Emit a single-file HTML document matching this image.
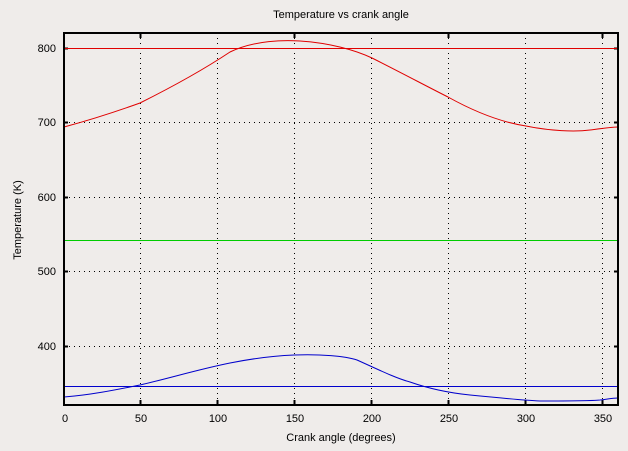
<!DOCTYPE html><html><head><style>body{margin:0;background:#efecea}</style></head><body>
<svg width="628" height="446" xmlns="http://www.w3.org/2000/svg" font-family="Liberation Sans, sans-serif" font-size="11">
<rect width="628" height="446" fill="#efecea"/>
<text x="341" y="18" text-anchor="middle">Temperature vs crank angle</text>
<text x="341" y="441" text-anchor="middle">Crank angle (degrees)</text>
<text transform="translate(21,220) rotate(-90)" text-anchor="middle">Temperature (K)</text>
<g stroke="#000" stroke-dasharray="1,4" stroke-width="1">
<line x1="140.5" y1="33" x2="140.5" y2="405"/><line x1="217.5" y1="33" x2="217.5" y2="405"/><line x1="294.5" y1="33" x2="294.5" y2="405"/><line x1="371.5" y1="33" x2="371.5" y2="405"/><line x1="448.5" y1="33" x2="448.5" y2="405"/><line x1="525.5" y1="33" x2="525.5" y2="405"/><line x1="602.5" y1="33" x2="602.5" y2="405"/>
<line x1="64" y1="346.5" x2="618" y2="346.5"/><line x1="64" y1="271.5" x2="618" y2="271.5"/><line x1="64" y1="197.5" x2="618" y2="197.5"/><line x1="64" y1="122.5" x2="618" y2="122.5"/><line x1="64" y1="48.5" x2="618" y2="48.5"/>
</g>
<g stroke="#000" stroke-width="2">
<line x1="140.5" y1="405" x2="140.5" y2="400"/><line x1="217.5" y1="405" x2="217.5" y2="400"/><line x1="294.5" y1="405" x2="294.5" y2="400"/><line x1="371.5" y1="405" x2="371.5" y2="400"/><line x1="448.5" y1="405" x2="448.5" y2="400"/><line x1="525.5" y1="405" x2="525.5" y2="400"/><line x1="602.5" y1="405" x2="602.5" y2="400"/>
<line x1="140.5" y1="33" x2="140.5" y2="38"/><line x1="294.5" y1="33" x2="294.5" y2="38"/><line x1="448.5" y1="33" x2="448.5" y2="38"/><line x1="602.5" y1="33" x2="602.5" y2="38"/>
<line x1="64" y1="346.5" x2="68" y2="346.5"/><line x1="64" y1="271.5" x2="68" y2="271.5"/><line x1="64" y1="197.5" x2="68" y2="197.5"/><line x1="64" y1="122.5" x2="68" y2="122.5"/><line x1="64" y1="48.5" x2="68" y2="48.5"/>
<line x1="618" y1="346.5" x2="614" y2="346.5"/><line x1="618" y1="271.5" x2="614" y2="271.5"/><line x1="618" y1="197.5" x2="614" y2="197.5"/><line x1="618" y1="122.5" x2="614" y2="122.5"/><line x1="618" y1="48.5" x2="614" y2="48.5"/>
</g>
<g text-anchor="middle"><text x="65" y="422">0</text><text x="141" y="422">50</text><text x="218" y="422">100</text><text x="295" y="422">150</text><text x="372" y="422">200</text><text x="449" y="422">250</text><text x="526" y="422">300</text><text x="603" y="422">350</text></g>
<g text-anchor="end"><text x="56" y="350">400</text><text x="56" y="275">500</text><text x="56" y="201">600</text><text x="56" y="126">700</text><text x="56" y="52">800</text></g>
<line x1="64" y1="48.5" x2="618" y2="48.5" stroke="#e00000"/>
<line x1="64" y1="240.5" x2="618" y2="240.5" stroke="#00cc00"/>
<line x1="64" y1="386.5" x2="618" y2="386.5" stroke="#0000cc"/>
<path d="M64,127 C90,120 115,112 140,103 C170,88 200,72 230,52 C255,40 285,40 300,41 C330,43 355,50 372,58 C400,72 430,88 448,97 C475,112 500,122 526,126 C550,131 575,132 590,130 C605,128 612,127 618,127" fill="none" stroke="#e00000"/>
<path d="M64,397 C90,395 115,390 140,385 C170,378 200,369 230,363 C250,359 270,356 294,355 C320,354 345,356 357,360 C375,368 395,378 410,382 C430,389 450,393 470,395 C500,398 520,400 540,401 C570,401 590,401 600,400 C608,399 614,398 618,398" fill="none" stroke="#0000cc"/>
<rect x="64" y="33" width="554" height="372" fill="none" stroke="#000" stroke-width="2"/>
</svg></body></html>
